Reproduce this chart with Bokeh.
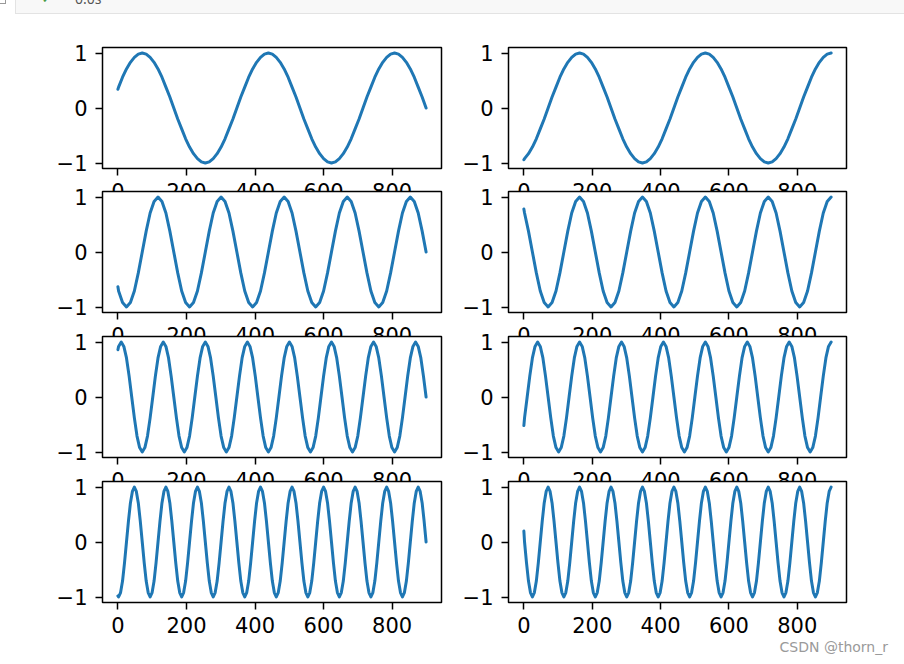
from bokeh.plotting import figure
from bokeh.models import Range1d, FixedTicker, Div
from bokeh.layouts import column, row
from bokeh.embed import file_html
from bokeh.resources import INLINE

# ---------------- data ----------------
X_TICKS = [0, 200, 400, 600, 800]
Y_TICKS = [-1, 0, 1]
Y_TICK_LABELS = {-1: "\u22121", 0: "0", 1: "1"}

# row 1 (slowest wave)
X1 = [0, 2, 13.5, 25, 36.5, 48, 59.5, 71, 82.5, 94, 105.5, 117, 128.5, 140, 151.5, 163, 174.5,
      186, 197.5, 209, 220.5, 232, 243.5, 255, 266.5, 278, 289.5, 301, 312.5, 324, 335.5, 347,
      358.5, 370, 381.5, 393, 404.5, 416, 427.5, 439, 450.5, 462, 473.5, 485, 496.5, 508, 519.5,
      531, 542.5, 554, 565.5, 577, 588.5, 600, 611.5, 623, 634.5, 646, 657.5, 669, 680.5, 692,
      703.5, 715, 726.5, 738, 749.5, 761, 772.5, 784, 795.5, 807, 818.5, 830, 841.5, 853, 864.5,
      876, 887.5, 899]
Y1_LEFT = [0.34, 0.38, 0.56, 0.71, 0.83, 0.92, 0.98, 1, 0.98, 0.92, 0.83, 0.71, 0.56, 0.38, 0.2, 0,
           -0.2, -0.38, -0.56, -0.71, -0.83, -0.92, -0.98, -1, -0.98, -0.92, -0.83, -0.71, -0.56, -0.38, -0.2, 0,
           0.2, 0.38, 0.56, 0.71, 0.83, 0.92, 0.98, 1, 0.98, 0.92, 0.83, 0.71, 0.56, 0.38, 0.2, 0,
           -0.2, -0.38, -0.56, -0.71, -0.83, -0.92, -0.98, -1, -0.98, -0.92, -0.83, -0.71, -0.56, -0.38, -0.2, 0,
           0.2, 0.38, 0.56, 0.71, 0.83, 0.92, 0.98, 1, 0.98, 0.92, 0.83, 0.71, 0.56, 0.38, 0.2, 0]
Y1_RIGHT = [-0.94, -0.92, -0.83, -0.71, -0.56, -0.38, -0.2, 0, 0.2, 0.38, 0.56, 0.71, 0.83, 0.92, 0.98, 1,
            0.98, 0.92, 0.83, 0.71, 0.56, 0.38, 0.2, 0, -0.2, -0.38, -0.56, -0.71, -0.83, -0.92, -0.98, -1,
            -0.98, -0.92, -0.83, -0.71, -0.56, -0.38, -0.2, 0, 0.2, 0.38, 0.56, 0.71, 0.83, 0.92, 0.98, 1,
            0.98, 0.92, 0.83, 0.71, 0.56, 0.38, 0.2, 0, -0.2, -0.38, -0.56, -0.71, -0.83, -0.92, -0.98, -1,
            -0.98, -0.92, -0.83, -0.71, -0.56, -0.38, -0.2, 0, 0.2, 0.38, 0.56, 0.71, 0.83, 0.92, 0.98, 1]

# row 2
X2 = [0, 2, 13.5, 25, 36.5, 48, 59.5, 71, 82.5, 94, 105.5, 117, 128.5, 140, 151.5, 163, 174.5,
      186, 197.5, 209, 220.5, 232, 243.5, 255, 266.5, 278, 289.5, 301, 312.5, 324, 335.5, 347,
      358.5, 370, 381.5, 393, 404.5, 416, 427.5, 439, 450.5, 462, 473.5, 485, 496.5, 508, 519.5,
      531, 542.5, 554, 565.5, 577, 588.5, 600, 611.5, 623, 634.5, 646, 657.5, 669, 680.5, 692,
      703.5, 715, 726.5, 738, 749.5, 761, 772.5, 784, 795.5, 807, 818.5, 830, 841.5, 853, 864.5,
      876, 887.5, 899]
Y2_LEFT = [-0.63,
           -0.71, -0.92, -1, -0.92, -0.71, -0.38, 0, 0.38, 0.71, 0.92, 1, 0.92, 0.71, 0.38, 0,
           -0.38, -0.71, -0.92, -1, -0.92, -0.71, -0.38, 0, 0.38, 0.71, 0.92, 1, 0.92, 0.71, 0.38, 0,
           -0.38, -0.71, -0.92, -1, -0.92, -0.71, -0.38, 0, 0.38, 0.71, 0.92, 1, 0.92, 0.71, 0.38, 0,
           -0.38, -0.71, -0.92, -1, -0.92, -0.71, -0.38, 0, 0.38, 0.71, 0.92, 1, 0.92, 0.71, 0.38, 0,
           -0.38, -0.71, -0.92, -1, -0.92, -0.71, -0.38, 0, 0.38, 0.71, 0.92, 1, 0.92, 0.71, 0.38, 0]
Y2_RIGHT = [0.78,
            0.71, 0.38, 0, -0.38, -0.71, -0.92, -1, -0.92, -0.71, -0.38, 0, 0.38, 0.71, 0.92, 1,
            0.92, 0.71, 0.38, 0, -0.38, -0.71, -0.92, -1, -0.92, -0.71, -0.38, 0, 0.38, 0.71, 0.92, 1,
            0.92, 0.71, 0.38, 0, -0.38, -0.71, -0.92, -1, -0.92, -0.71, -0.38, 0, 0.38, 0.71, 0.92, 1,
            0.92, 0.71, 0.38, 0, -0.38, -0.71, -0.92, -1, -0.92, -0.71, -0.38, 0, 0.38, 0.71, 0.92, 1,
            0.92, 0.71, 0.38, 0, -0.38, -0.71, -0.92, -1, -0.92, -0.71, -0.38, 0, 0.38, 0.71, 0.92, 1]

# row 3
X3 = [0, 2, 9.7, 17.3, 25, 32.7, 40.3, 48, 55.7, 63.3, 71, 78.7, 86.3, 94, 101.7, 109.3,
      117, 124.7, 132.3, 140, 147.7, 155.3, 163, 170.7, 178.3, 186, 193.7, 201.3, 209, 216.7, 224.3,
      232, 239.7, 247.3, 255, 262.7, 270.3, 278, 285.7, 293.3, 301, 308.7, 316.3, 324, 331.7, 339.3,
      347, 354.7, 362.3, 370, 377.7, 385.3, 393, 400.7, 408.3, 416, 423.7, 431.3, 439, 446.7, 454.3,
      462, 469.7, 477.3, 485, 492.7, 500.3, 508, 515.7, 523.3, 531, 538.7, 546.3, 554, 561.7, 569.3,
      577, 584.7, 592.3, 600, 607.7, 615.3, 623, 630.7, 638.3, 646, 653.7, 661.3, 669, 676.7, 684.3,
      692, 699.7, 707.3, 715, 722.7, 730.3, 738, 745.7, 753.3, 761, 768.7, 776.3, 784, 791.7, 799.3,
      807, 814.7, 822.3, 830, 837.7, 845.3, 853, 860.7, 868.3, 876, 883.7, 891.3, 899]
Y3_LEFT = [0.86, 0.92, 1, 0.92, 0.71, 0.38, 0,
           -0.38, -0.71, -0.92, -1, -0.92, -0.71, -0.38, 0, 0.38, 0.71, 0.92, 1, 0.92, 0.71, 0.38, 0,
           -0.38, -0.71, -0.92, -1, -0.92, -0.71, -0.38, 0, 0.38, 0.71, 0.92, 1, 0.92, 0.71, 0.38, 0,
           -0.38, -0.71, -0.92, -1, -0.92, -0.71, -0.38, 0, 0.38, 0.71, 0.92, 1, 0.92, 0.71, 0.38, 0,
           -0.38, -0.71, -0.92, -1, -0.92, -0.71, -0.38, 0, 0.38, 0.71, 0.92, 1, 0.92, 0.71, 0.38, 0,
           -0.38, -0.71, -0.92, -1, -0.92, -0.71, -0.38, 0, 0.38, 0.71, 0.92, 1, 0.92, 0.71, 0.38, 0,
           -0.38, -0.71, -0.92, -1, -0.92, -0.71, -0.38, 0, 0.38, 0.71, 0.92, 1, 0.92, 0.71, 0.38, 0,
           -0.38, -0.71, -0.92, -1, -0.92, -0.71, -0.38, 0, 0.38, 0.71, 0.92, 1, 0.92, 0.71, 0.38, 0]
Y3_RIGHT = [-0.52, -0.38, 0, 0.38, 0.71, 0.92, 1,
            0.92, 0.71, 0.38, 0, -0.38, -0.71, -0.92, -1, -0.92, -0.71, -0.38, 0, 0.38, 0.71, 0.92, 1,
            0.92, 0.71, 0.38, 0, -0.38, -0.71, -0.92, -1, -0.92, -0.71, -0.38, 0, 0.38, 0.71, 0.92, 1,
            0.92, 0.71, 0.38, 0, -0.38, -0.71, -0.92, -1, -0.92, -0.71, -0.38, 0, 0.38, 0.71, 0.92, 1,
            0.92, 0.71, 0.38, 0, -0.38, -0.71, -0.92, -1, -0.92, -0.71, -0.38, 0, 0.38, 0.71, 0.92, 1,
            0.92, 0.71, 0.38, 0, -0.38, -0.71, -0.92, -1, -0.92, -0.71, -0.38, 0, 0.38, 0.71, 0.92, 1,
            0.92, 0.71, 0.38, 0, -0.38, -0.71, -0.92, -1, -0.92, -0.71, -0.38, 0, 0.38, 0.71, 0.92, 1,
            0.92, 0.71, 0.38, 0, -0.38, -0.71, -0.92, -1, -0.92, -0.71, -0.38, 0, 0.38, 0.71, 0.92, 1]

# row 4 (fastest wave)
X4 = [0, 2, 7.75, 13.5, 19.25, 25, 30.75, 36.5, 42.25, 48, 53.75, 59.5, 65.25,
      71, 76.75, 82.5, 88.25, 94, 99.75, 105.5, 111.25, 117, 122.75, 128.5, 134.25,
      140, 145.75, 151.5, 157.25, 163, 168.75, 174.5, 180.25, 186, 191.75, 197.5, 203.25,
      209, 214.75, 220.5, 226.25, 232, 237.75, 243.5, 249.25, 255, 260.75, 266.5, 272.25,
      278, 283.75, 289.5, 295.25, 301, 306.75, 312.5, 318.25, 324, 329.75, 335.5, 341.25,
      347, 352.75, 358.5, 364.25, 370, 375.75, 381.5, 387.25, 393, 398.75, 404.5, 410.25,
      416, 421.75, 427.5, 433.25, 439, 444.75, 450.5, 456.25, 462, 467.75, 473.5, 479.25,
      485, 490.75, 496.5, 502.25, 508, 513.75, 519.5, 525.25, 531, 536.75, 542.5, 548.25,
      554, 559.75, 565.5, 571.25, 577, 582.75, 588.5, 594.25, 600, 605.75, 611.5, 617.25,
      623, 628.75, 634.5, 640.25, 646, 651.75, 657.5, 663.25, 669, 674.75, 680.5, 686.25,
      692, 697.75, 703.5, 709.25, 715, 720.75, 726.5, 732.25, 738, 743.75, 749.5, 755.25,
      761, 766.75, 772.5, 778.25, 784, 789.75, 795.5, 801.25, 807, 812.75, 818.5, 824.25,
      830, 835.75, 841.5, 847.25, 853, 858.75, 864.5, 870.25, 876, 881.75, 887.5, 893.25, 899]
Y4_LEFT = [-0.98, -1, -0.92, -0.71, -0.38, 0, 0.38, 0.71, 0.92, 1, 0.92, 0.71, 0.38, 0,
           -0.38, -0.71, -0.92, -1, -0.92, -0.71, -0.38, 0, 0.38, 0.71, 0.92, 1, 0.92, 0.71, 0.38, 0,
           -0.38, -0.71, -0.92, -1, -0.92, -0.71, -0.38, 0, 0.38, 0.71, 0.92, 1, 0.92, 0.71, 0.38, 0,
           -0.38, -0.71, -0.92, -1, -0.92, -0.71, -0.38, 0, 0.38, 0.71, 0.92, 1, 0.92, 0.71, 0.38, 0,
           -0.38, -0.71, -0.92, -1, -0.92, -0.71, -0.38, 0, 0.38, 0.71, 0.92, 1, 0.92, 0.71, 0.38, 0,
           -0.38, -0.71, -0.92, -1, -0.92, -0.71, -0.38, 0, 0.38, 0.71, 0.92, 1, 0.92, 0.71, 0.38, 0,
           -0.38, -0.71, -0.92, -1, -0.92, -0.71, -0.38, 0, 0.38, 0.71, 0.92, 1, 0.92, 0.71, 0.38, 0,
           -0.38, -0.71, -0.92, -1, -0.92, -0.71, -0.38, 0, 0.38, 0.71, 0.92, 1, 0.92, 0.71, 0.38, 0,
           -0.38, -0.71, -0.92, -1, -0.92, -0.71, -0.38, 0, 0.38, 0.71, 0.92, 1, 0.92, 0.71, 0.38, 0,
           -0.38, -0.71, -0.92, -1, -0.92, -0.71, -0.38, 0, 0.38, 0.71, 0.92, 1, 0.92, 0.71, 0.38, 0]
Y4_RIGHT = [0.2, 0, -0.38, -0.71, -0.92, -1, -0.92, -0.71, -0.38, 0, 0.38, 0.71, 0.92, 1,
            0.92, 0.71, 0.38, 0, -0.38, -0.71, -0.92, -1, -0.92, -0.71, -0.38, 0, 0.38, 0.71, 0.92, 1,
            0.92, 0.71, 0.38, 0, -0.38, -0.71, -0.92, -1, -0.92, -0.71, -0.38, 0, 0.38, 0.71, 0.92, 1,
            0.92, 0.71, 0.38, 0, -0.38, -0.71, -0.92, -1, -0.92, -0.71, -0.38, 0, 0.38, 0.71, 0.92, 1,
            0.92, 0.71, 0.38, 0, -0.38, -0.71, -0.92, -1, -0.92, -0.71, -0.38, 0, 0.38, 0.71, 0.92, 1,
            0.92, 0.71, 0.38, 0, -0.38, -0.71, -0.92, -1, -0.92, -0.71, -0.38, 0, 0.38, 0.71, 0.92, 1,
            0.92, 0.71, 0.38, 0, -0.38, -0.71, -0.92, -1, -0.92, -0.71, -0.38, 0, 0.38, 0.71, 0.92, 1,
            0.92, 0.71, 0.38, 0, -0.38, -0.71, -0.92, -1, -0.92, -0.71, -0.38, 0, 0.38, 0.71, 0.92, 1,
            0.92, 0.71, 0.38, 0, -0.38, -0.71, -0.92, -1, -0.92, -0.71, -0.38, 0, 0.38, 0.71, 0.92, 1,
            0.92, 0.71, 0.38, 0, -0.38, -0.71, -0.92, -1, -0.92, -0.71, -0.38, 0, 0.38, 0.71, 0.92, 1]

ROWS = [(X1, Y1_LEFT, Y1_RIGHT), (X2, Y2_LEFT, Y2_RIGHT),
        (X3, Y3_LEFT, Y3_RIGHT), (X4, Y4_LEFT, Y4_RIGHT)]

# ---------------- styling ----------------
LINE_COLOR = "#1f77b4"
FONT = "DejaVu Sans"
FONT_SIZE = "21px"


def panel(xs, ys, col, first_row, last_row):
    p = figure(
        frame_width=339 if col == 0 else 338,
        frame_height=121,
        x_range=Range1d(-44.95, 943.95),
        y_range=Range1d(-1.1, 1.1),
        output_backend="svg",
        toolbar_location=None,
        min_border_left=102 if col == 0 else 57,
        min_border_right=10,
        min_border_top=32 if first_row else 3,
        min_border_bottom=38 if last_row else 40,
    )
    p.line(xs, ys, line_color=LINE_COLOR, line_width=3, line_join="round", line_cap="round")
    p.xgrid.visible = False
    p.ygrid.visible = False
    p.border_fill_color = None
    p.background_fill_color = "white"
    p.outline_line_color = "black"
    p.outline_line_width = 1.5
    p.axis.axis_line_color = None
    p.axis.major_tick_in = 0
    p.axis.major_tick_out = 7
    p.axis.major_tick_line_width = 1.5
    p.axis.major_tick_line_color = "black"
    p.axis.minor_tick_line_color = None
    p.axis.major_label_text_font = FONT
    p.axis.major_label_text_font_size = FONT_SIZE
    p.axis.major_label_text_color = "black"
    p.xaxis.ticker = FixedTicker(ticks=X_TICKS)
    p.yaxis.ticker = FixedTicker(ticks=Y_TICKS)
    p.yaxis.major_label_overrides = Y_TICK_LABELS
    p.xaxis.major_label_standoff = 7
    p.yaxis.major_label_standoff = 8
    return p


TOP_HTML = (
    '<div style="position:relative;width:904px;height:15px;overflow:hidden;">'
    '<div style="position:absolute;left:0;top:0;width:6px;height:4px;'
    'border-right:1px solid #999;border-bottom:1px solid #999;"></div>'
    '<div style="position:absolute;left:15px;top:-1px;width:900px;height:15px;'
    'background:#f8f8f8;border:1px solid #e3e3e3;box-sizing:border-box;"></div>'
    '<span style="position:absolute;left:41px;top:-12px;font-family:\'DejaVu Sans\';'
    'font-size:15px;color:#4a9b45;">\u2713</span>'
    '<span style="position:absolute;left:75px;top:-11px;font-family:\'Noto Sans\';'
    'font-size:14px;color:#555;">0.0s</span>'
    '</div>'
)
top_div = Div(text=TOP_HTML, width=904, height=15, margin=0)

WM_HTML = ('<div style="width:888px;text-align:right;font-family:\'DejaVu Sans\';'
           'font-size:14px;line-height:13px;color:#9a9a9a;">CSDN @thorn_r</div>')
wm_div = Div(text=WM_HTML, width=888, height=13, margin=0)

rows = []
offsets = [None, "-20px", "-19px", "-19px"]
for i, (xs, yl, yr) in enumerate(ROWS):
    assert len(xs) == len(yl) == len(yr), (i, len(xs), len(yl), len(yr))
    pl = panel(xs, yl, 0, i == 0, i == 3)
    pr = panel(xs, yr, 1, i == 0, i == 3)
    if offsets[i]:
        rows.append(row(pl, pr, styles={"margin-top": offsets[i]}))
    else:
        rows.append(row(pl, pr))

layout = column(top_div, *rows, wm_div)

open("out.html", "w").write(file_html(layout, INLINE, title="subplots"))
